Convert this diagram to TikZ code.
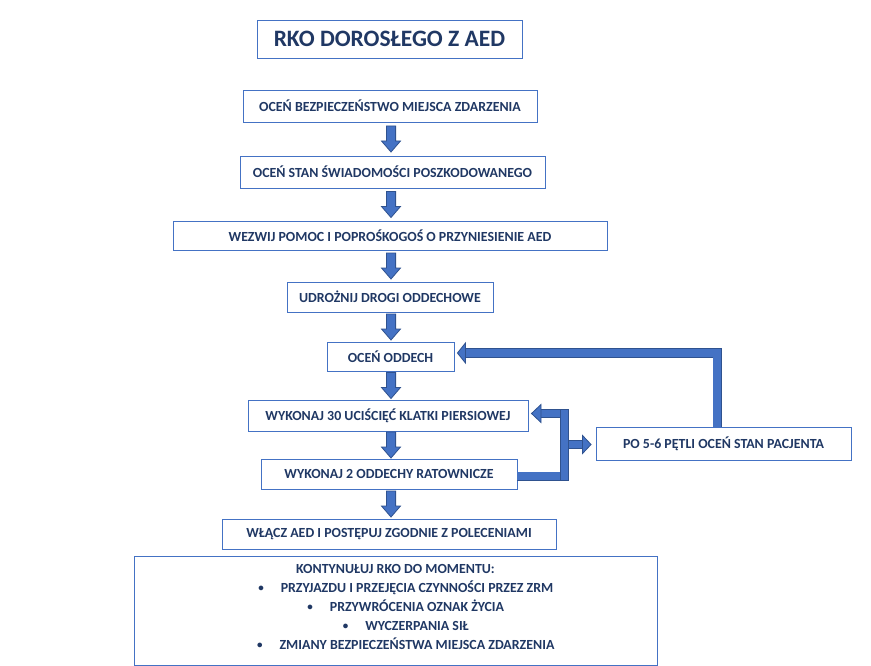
\documentclass[tikz,border=0pt]{standalone}
\usepackage{fontspec}
\setmainfont{Carlito}
\usetikzlibrary{calc}
\definecolor{boxblue}{HTML}{4472C4}
\definecolor{arrowdark}{HTML}{2F528F}
\definecolor{txt}{HTML}{203864}
\newcommand\blockdown[2]{%
  \draw[blk] let \p1=($(#1.south)!0.5!(#2.north)$) in
    (391pt-4.6pt,\y1+13pt) -- (391pt+4.6pt,\y1+13pt) -- (391pt+4.6pt,\y1-2pt) --
    (391pt+9.5pt,\y1-2pt) -- (391pt,\y1-13pt) -- (391pt-9.5pt,\y1-2pt) --
    (391pt-4.6pt,\y1-2pt) -- cycle;}
\newcommand\bul{\hspace*{43pt}\llap{\raisebox{0.8pt}{\fontsize{11}{11}\selectfont•}\hspace{17pt}}}
\begin{document}
\begin{tikzpicture}[x=1pt,y=-1pt,
  box/.style={draw=boxblue, line width=0.9pt, fill=white, text=txt,
    font=\bfseries\fontsize{13.9}{16}\selectfont, inner sep=0pt, align=center},
  blk/.style={fill=boxblue, draw=arrowdark, line width=0.8pt, line join=miter},
  shaft/.style={draw=arrowdark, double=boxblue, double distance=7.8pt, line width=0.8pt, line join=miter},
  plain/.style={text=txt, inner sep=0pt, align=center}]
\useasboundingbox[fill=white] (0,0) rectangle (871,666);

\node[box, minimum width=265pt, minimum height=38pt,
  font=\bfseries\fontsize{23.5}{26}\selectfont] (title) at (389.5,39) {RKO DOROSŁEGO Z AED};
\node[box, minimum width=294pt, minimum height=32pt] (b1) at (390,106) {OCEŃ BEZPIECZEŃSTWO MIEJSCA ZDARZENIA};
\node[box, minimum width=305pt, minimum height=32pt] (b2) at (392.5,172) {OCEŃ STAN ŚWIADOMOŚCI POSZKODOWANEGO};
\node[box, minimum width=434pt, minimum height=29pt] (b3) at (390,235.5) {WEZWIJ POMOC I POPROŚKOGOŚ O PRZYNIESIENIE AED};
\node[box, minimum width=206pt, minimum height=30pt] (b4) at (390,297) {UDROŻNIJ DROGI ODDECHOWE};
\node[box, minimum width=127pt, minimum height=29pt] (b5) at (390.5,356.5) {OCEŃ ODDECH};
\node[box, minimum width=280pt, minimum height=31pt] (b6) at (388,415.5) {WYKONAJ 30 UCIŚCIĘĆ KLATKI PIERSIOWEJ};
\node[box, minimum width=256pt, minimum height=30pt] (b7) at (389,474) {WYKONAJ 2 ODDECHY RATOWNICZE};
\node[box, minimum width=334pt, minimum height=30pt] (b8) at (389,534) {WŁĄCZ AED I POSTĘPUJ ZGODNIE Z POLECENIAMI};
\node[box, minimum width=523pt, minimum height=109pt] (b9) at (395.5,610.5) {};
\node[plain, font=\bfseries\fontsize{13.9}{19}\selectfont] (b9t) at (395.5,607)
  {KONTYNUŁUJ RKO DO MOMENTU:\\
   \bul PRZYJAZDU I PRZEJĘCIA CZYNNOŚCI PRZEZ ZRM\\
   \bul PRZYWRÓCENIA OZNAK ŻYCIA\\
   \bul WYCZERPANIA SIŁ\\
   \bul ZMIANY BEZPIECZEŃSTWA MIEJSCA ZDARZENIA};
\node[box, minimum width=255pt, minimum height=33pt] (b10) at (723.5,443.8) {PO 5-6 PĘTLI OCEŃ STAN PACJENTA};

% down block arrows
\blockdown{b1}{b2}
\blockdown{b2}{b3}
\blockdown{b3}{b4}
\blockdown{b4}{b5}
\blockdown{b5}{b6}
\blockdown{b6}{b7}
\blockdown{b7}{b8}

% loop from b7 back to b6 and to b10
\coordinate (vbtop) at (564.3,409);
\coordinate (vbbot) at (564.3,480.3);
\draw[shaft] (b7.east |- 0,476.3) -- (560,476.3);
\draw[shaft] (560,413.5) -- (540,413.5);
\draw[blk] (531.5,413.5) -- ++(9.5,-9) -- ++(0,18) -- cycle;
\draw[blk] ($(vbtop)+(-4.3,0)$) rectangle ($(vbbot)+(4.3,0)$);
\draw[shaft] (568.6,444.5) -- (583.5,444.5);
\draw[blk] (b10.west |- 0,444.5) ++(-4.5,0) -- ++(-8.5,-9) -- ++(0,18) -- cycle;

% big loop from b10 back to b5
\coordinate (corner) at (717.2,353);
\draw[shaft] (b10.north -| corner) -- (corner) -- (465,353);
\draw[blk] ($(b5.east)+(3,-3.5)$) -- ++(8,-10) -- ++(0,20) -- cycle;
\end{tikzpicture}
\end{document}
